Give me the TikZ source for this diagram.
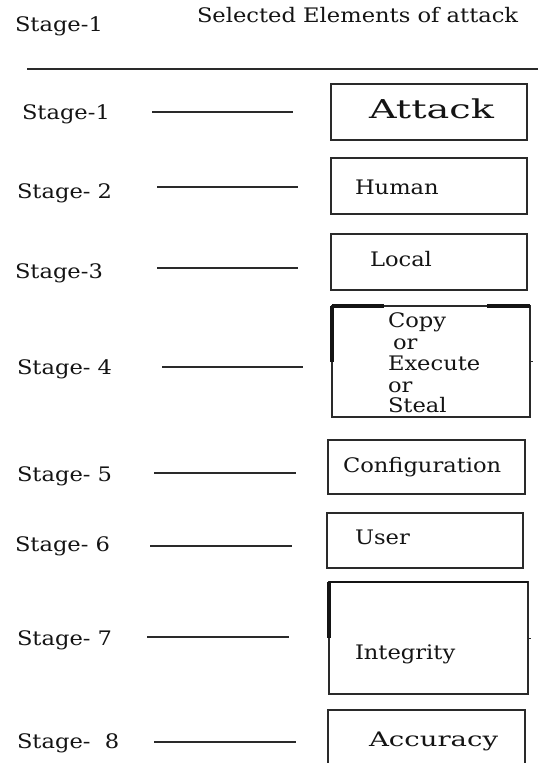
\documentclass[tikz,border=0pt]{standalone}
\usepackage{fontspec}
\setmainfont{DejaVu Serif}
\definecolor{ink}{HTML}{141414}
\definecolor{rule}{HTML}{2A2A2A}
\begin{document}
\begin{tikzpicture}[x=1pt,y=-1pt,
  lbl/.style={font=\fontsize{20}{24}\selectfont, text=ink, xscale=1.13,
              anchor=mid west, inner sep=0pt, outer sep=0pt},
  bigl/.style={lbl, font=\fontsize{26}{30}\selectfont, xscale=1.3},
  stagebox/.style={draw=rule, line width=1.5pt, rectangle, inner sep=0pt,
                   outer sep=0pt},
  link/.style={draw=rule, line width=1.3pt},
  heavy/.style={draw=ink, line width=3.2pt}]
\useasboundingbox (0,0) rectangle (538,763);
\fill[white] (0,0) rectangle (538,763);

% heading
\node[lbl] (hstage) at (15,29) {Stage-1};
\node[lbl] (htitle) at (197,20) {Selected Elements of attack};
\coordinate (hl1) at (27,69);
\coordinate (hl2) at (540,69);
\draw[link] (hl1) -- (hl2);

% stage names on the left
\node[lbl] (s1) at (22,117) {Stage-1};
\node[lbl] (s2) at (17,196) {Stage- 2};
\node[lbl] (s3) at (15,276) {Stage-3};
\node[lbl] (s4) at (17,372) {Stage- 4};
\node[lbl] (s5) at (17,479) {Stage- 5};
\node[lbl] (s6) at (15,549) {Stage- 6};
\node[lbl] (s7) at (17,643) {Stage- 7};
\node[lbl] (s8) at (17,746) {Stage-\ \ 8};

% free-standing stage rules
\coordinate (l1a) at (152,112); \coordinate (l1b) at (293,112);
\coordinate (l2a) at (157,187); \coordinate (l2b) at (298,187);
\coordinate (l3a) at (157,268); \coordinate (l3b) at (298,268);
\coordinate (l4a) at (162,367); \coordinate (l4b) at (303,367);
\coordinate (l5a) at (154,473); \coordinate (l5b) at (296,473);
\coordinate (l6a) at (150,546); \coordinate (l6b) at (292,546);
\coordinate (l7a) at (147,637); \coordinate (l7b) at (289,637);
\coordinate (l8a) at (154,742); \coordinate (l8b) at (296,742);
\foreach \i in {1,...,8} \draw[link] (l\i a) -- (l\i b);

% element boxes
\node[stagebox, minimum width=196pt, minimum height=56pt] (b1) at (429,112) {};
\node[stagebox, minimum width=196pt, minimum height=56pt] (b2) at (429,186) {};
\node[stagebox, minimum width=196pt, minimum height=56pt] (b3) at (429,262) {};
\node[stagebox, minimum width=198pt, minimum height=111pt] (b4) at (431,361.5) {};
\node[stagebox, minimum width=197pt, minimum height=54pt] (b5) at (426.5,467) {};
\node[stagebox, minimum width=196pt, minimum height=55pt] (b6) at (425,540.5) {};
\node[stagebox, minimum width=199pt, minimum height=112pt] (b7) at (428.5,638) {};
\node[stagebox, minimum width=197pt, minimum height=58pt] (b8) at (426.5,739) {};

% heavier border strokes and edge ticks
\draw[heavy] (b4.north west) -- ++(0,56);
\draw[heavy] (b4.north west) -- ++(52,0);
\draw[heavy] (b4.north east) -- ++(-43,0);
\draw[link, line width=1pt] (b4.east) -- ++(3,0);
\draw[heavy, line width=2.6pt] (b7.north west) -- (b7.north east);
\draw[heavy] (b7.north west) -- ++(0,56);
\draw[link, line width=1pt] (b7.east) -- ++(3,0);

% box texts
\node[bigl] (t1) at (369,116) {Attack};
\node[lbl] (t2) at (355,192) {Human};
\node[lbl] (t3) at (370,264) {Local};
\node[lbl] (c1) at (388,325) {Copy};
\node[lbl] (c2) at (393,347) {or};
\node[lbl] (c3) at (388,368) {Execute};
\node[lbl] (c4) at (388,390) {or};
\node[lbl] (c5) at (388,410) {Steal};
\node[lbl] (t5) at (343,470) {Configuration};
\node[lbl] (t6) at (355,542) {User};
\node[lbl] (t7) at (355,657) {Integrity};
\node[lbl, xscale=1.22] (t8) at (369,744) {Accuracy};
\end{tikzpicture}
\end{document}
